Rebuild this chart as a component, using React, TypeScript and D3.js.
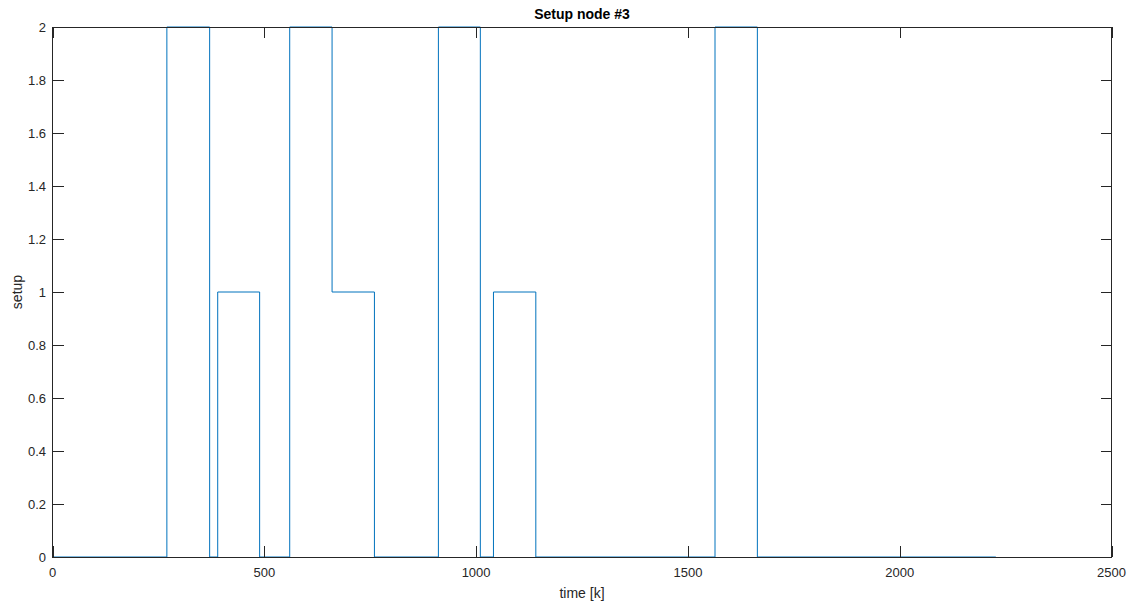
import React, { useEffect, useRef } from "react";
import * as d3 from "d3";

const W = 1132;
const H = 606;

// step series: time at which value changes, and new value
const stepTimes = [0, 270, 371, 390, 489, 560, 660, 760, 911, 1010, 1041, 1141, 1564, 1664, 2227];
const stepValues = [0, 2, 0, 1, 0, 2, 1, 0, 2, 0, 1, 0, 2, 0, 0];

const xTicks = [0, 500, 1000, 1500, 2000, 2500];
const yTicks = [0, 0.2, 0.4, 0.6, 0.8, 1, 1.2, 1.4, 1.6, 1.8, 2];

const titleText = "Setup node #3";
const xLabelText = "time [k]";
const yLabelText = "setup";

export default function App() {
  const ref = useRef<SVGSVGElement>(null);

  useEffect(() => {
    const svg = d3.select(ref.current);
    svg.selectAll("*").remove();

    const left = 52.5, right = 1111.5, top = 27, bottom = 557;
    const x = d3.scaleLinear().domain([0, 2500]).range([left, right]);
    const y = d3.scaleLinear().domain([0, 2]).range([bottom, top]);
    const axisColor = "#262626";
    const font = "Liberation Sans, Arial, Helvetica, sans-serif";

    svg.append("rect").attr("x", 0).attr("y", 0).attr("width", W).attr("height", H).attr("fill", "#fff");
    svg.append("rect").attr("x", left).attr("y", top).attr("width", right - left).attr("height", bottom - top).attr("fill", "#fff");

    const data = stepTimes.map((t, i) => ({ t, v: stepValues[i] }));
    const line = d3
      .line<{ t: number; v: number }>()
      .x((d) => x(d.t))
      .y((d) => y(d.v))
      .curve(d3.curveStepAfter);

    svg
      .append("path")
      .datum(data)
      .attr("d", line)
      .attr("fill", "none")
      .attr("stroke", "#0072BD")
      .attr("stroke-width", 1);

    const g = svg.append("g").attr("shape-rendering", "crispEdges");
    const tickLen = 11;
    // box
    g.append("rect")
      .attr("x", left)
      .attr("y", top)
      .attr("width", right - left)
      .attr("height", bottom - top)
      .attr("fill", "none")
      .attr("stroke", axisColor)
      .attr("stroke-width", 1);

    xTicks.forEach((t) => {
      const px = Math.round(x(t)) + 0.5;
      g.append("line").attr("x1", px).attr("x2", px).attr("y1", bottom).attr("y2", bottom - tickLen).attr("stroke", axisColor);
      g.append("line").attr("x1", px).attr("x2", px).attr("y1", top).attr("y2", top + tickLen).attr("stroke", axisColor);
      svg
        .append("text")
        .attr("x", x(t))
        .attr("y", 577)
        .attr("text-anchor", "middle")
        .attr("font-family", font)
        .attr("font-size", 13)
        .attr("fill", axisColor)
        .text(String(t));
    });

    yTicks.forEach((t) => {
      const py = Math.round(y(t)) + 0.5;
      g.append("line").attr("x1", left).attr("x2", left + tickLen).attr("y1", py).attr("y2", py).attr("stroke", axisColor);
      g.append("line").attr("x1", right).attr("x2", right - tickLen).attr("y1", py).attr("y2", py).attr("stroke", axisColor);
      svg
        .append("text")
        .attr("x", 46)
        .attr("y", y(t))
        .attr("dy", "0.35em")
        .attr("text-anchor", "end")
        .attr("font-family", font)
        .attr("font-size", 13)
        .attr("fill", axisColor)
        .text(d3.format("~g")(t));
    });

    svg
      .append("text")
      .attr("x", (left + right) / 2)
      .attr("y", 19)
      .attr("text-anchor", "middle")
      .attr("font-family", font)
      .attr("font-size", 14)
      .attr("font-weight", "bold")
      .attr("fill", "#000")
      .text(titleText);

    svg
      .append("text")
      .attr("x", (left + right) / 2)
      .attr("y", 598)
      .attr("text-anchor", "middle")
      .attr("font-family", font)
      .attr("font-size", 14)
      .attr("fill", axisColor)
      .text(xLabelText);

    svg
      .append("text")
      .attr("transform", `translate(22, ${(top + bottom) / 2}) rotate(-90)`)
      .attr("text-anchor", "middle")
      .attr("font-family", font)
      .attr("font-size", 14)
      .attr("fill", axisColor)
      .text(yLabelText);
  }, []);

  return (
    <svg
      ref={ref}
      width={W}
      height={H}
      style={{ position: "absolute", left: 0, top: 0, display: "block" }}
    />
  );
}
